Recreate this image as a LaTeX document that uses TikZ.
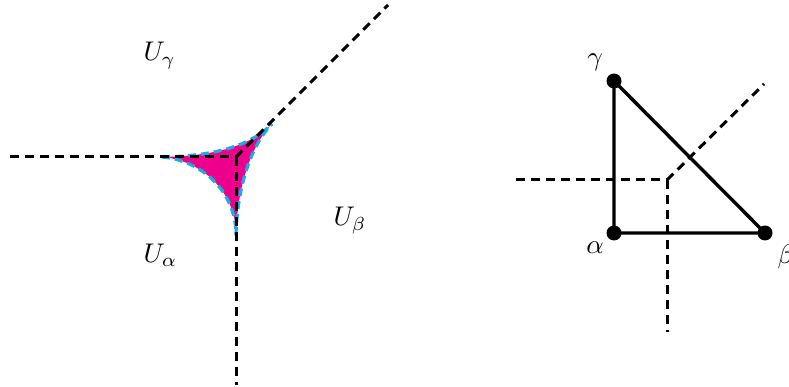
\documentclass[tikz,border=0pt]{standalone}
\usetikzlibrary{calc}
\definecolor{amoeba}{HTML}{EC008C}
\definecolor{bndry}{HTML}{1EA8E4}
\begin{document}
\begin{tikzpicture}[x=1pt,y=-1pt,
  dline/.style={line width=3pt, dash pattern=on 9pt off 6pt},
  cline/.style={bndry, line width=3.2pt, dash pattern=on 8pt off 5pt},
  sline/.style={line width=3.4pt},
  dot/.style={circle, fill=black, inner sep=0pt, minimum size=15pt},
  lab/.style={scale=2.7, inner sep=0pt}]
\useasboundingbox (0,0) rectangle (789,387);
% left diagram
\coordinate (O) at (236,157);
\coordinate (W) at (10,157);
\coordinate (S) at (236,385);
\coordinate (NE) at (388,5);
\coordinate (tl) at (162,157);
\coordinate (tb) at (236,235);
\coordinate (tr) at (272,124);
\fill[amoeba] (tl) .. controls (215,156) and (250,146) .. (tr)
  .. controls (250,146) and (237,190) .. (tb)
  .. controls (236,190) and (200,160) .. (tl) -- cycle;
\draw[cline] (tl) .. controls (215,156) and (250,146) .. (tr);
\draw[cline] (tb) .. controls (237,190) and (250,146) .. (tr);
\draw[cline] (tl) .. controls (200,160) and (236,190) .. (tb);
\draw[dline] (W) -- (O);
\draw[dline] (O) -- (S);
\draw[dline] (O) -- (NE);
\node[lab, anchor=base west] (Ug) at (143,61) {$U_\gamma$};
\node[lab, anchor=base west] (Ub) at (333,226) {$U_\beta$};
\node[lab, anchor=base west] (Ua) at (143,262) {$U_\alpha$};
% right diagram
\coordinate (O2) at (667,180);
\coordinate (W2) at (516,180);
\coordinate (S2) at (667,332);
\coordinate (NE2) at (764,84);
\draw[dline] (W2) -- (O2);
\draw[dline] (O2) -- (S2);
\draw[dline] (O2) -- (NE2);
\node[dot] (a) at (614,233) {};
\node[dot] (g) at (614,81) {};
\node[dot] (b) at (765,233) {};
\draw[sline] (a.center) -- (g.center) -- (b.center) -- (a.center);
\node[lab] (ga) at (595,62) {$\gamma$};
\node[lab] (al) at (595,248) {$\alpha$};
\node[lab] (be) at (786,257) {$\beta$};
\end{tikzpicture}
\end{document}
